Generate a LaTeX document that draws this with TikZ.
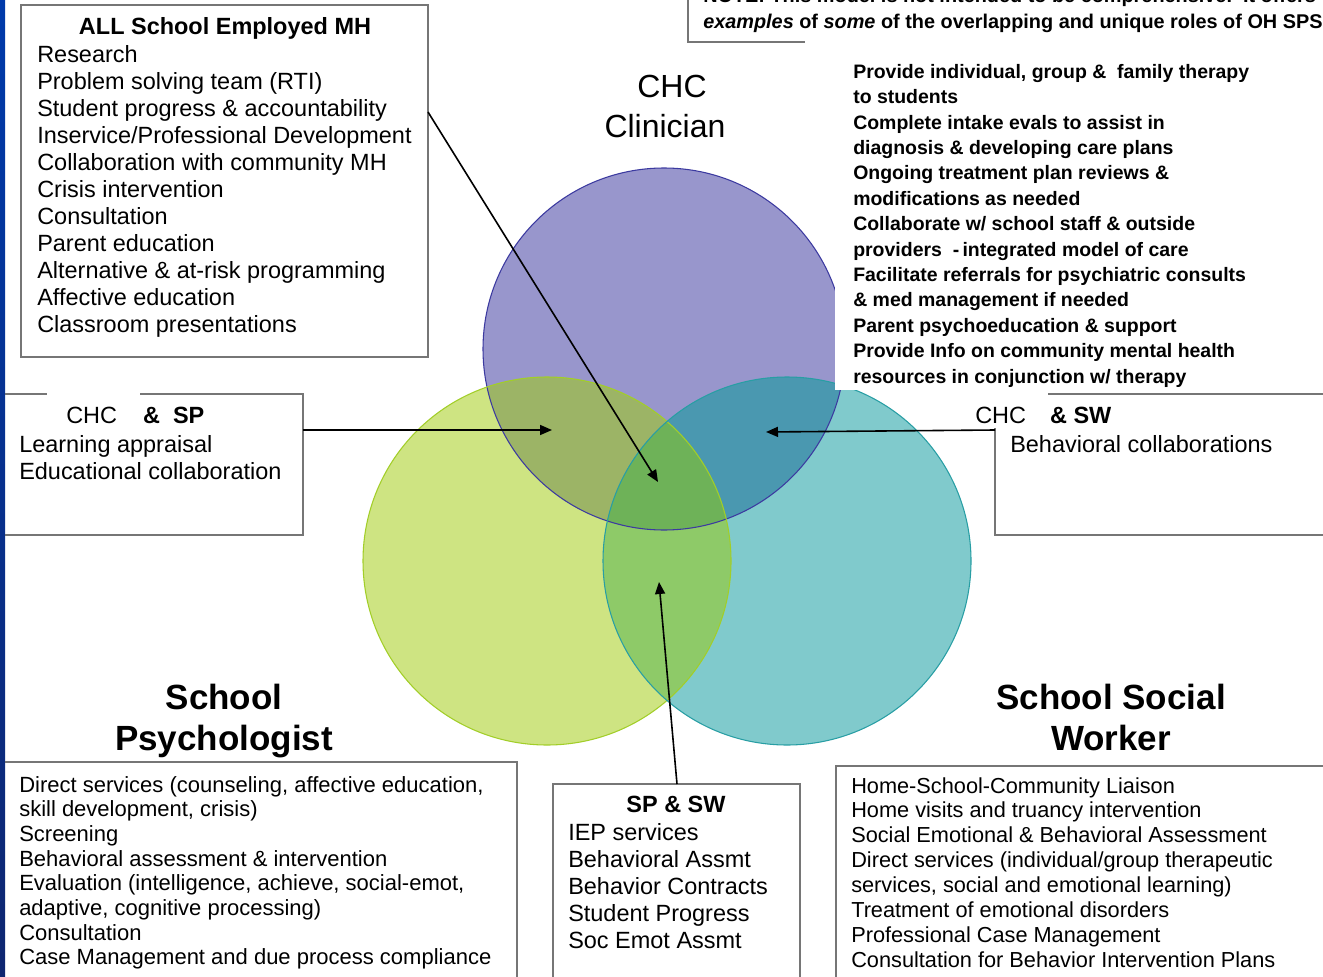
\documentclass[tikz,border=0pt]{standalone}
\usepackage{fontspec}
\setmainfont{Liberation Sans}
\usetikzlibrary{arrows.meta, positioning}
\definecolor{slideblue}{RGB}{0, 58, 170}
\definecolor{slidenavy}{RGB}{14, 38, 112}
\definecolor{boxgray}{RGB}{118, 118, 118}
\definecolor{chccolor}{RGB}{152, 150, 204}
\definecolor{chcline}{RGB}{60, 58, 160}
\definecolor{spcolor}{RGB}{206, 228, 130}
\definecolor{spline}{RGB}{162, 206, 40}
\definecolor{swcolor}{RGB}{128, 202, 204}
\definecolor{swline}{RGB}{40, 158, 164}
\definecolor{chcspcolor}{RGB}{156, 180, 102}
\definecolor{chcswcolor}{RGB}{74, 152, 176}
\definecolor{spswcolor}{RGB}{142, 202, 104}
\definecolor{allcolor}{RGB}{110, 178, 88}

\begin{document}
\begin{tikzpicture}[
    x=0.75pt, y=-0.75pt,
    boxline/.style={draw=boxgray, line width=1.5pt},
    pointer/.style={line width=1.2pt, -{Triangle[length=9pt, width=7.5pt]}},
    listtext/.style={anchor=north west, inner sep=0pt, align=left, font=\fontsize{17.6}{20.25}\selectfont},
    heading/.style={anchor=north, inner sep=0pt, align=center, font=\bfseries\fontsize{17.6}{20.25}\selectfont},
    bigtitle/.style={anchor=north, inner sep=0pt, align=center, font=\bfseries\fontsize{26.25}{30.75}\selectfont},
    chcname/.style={anchor=north, inner sep=0pt, font=\fontsize{24}{29.25}\selectfont},
]
    % Frame
    \clip (0,0) rectangle (1323,977);
    \fill[white] (0,0) rectangle (1323,977);
    \shade[top color=slideblue, bottom color=slidenavy] (0,0) rectangle (5,977);

    % Circles
    \def\chccircle{(664,349) circle[radius=181]}
    \def\spcircle{(547,561) circle[radius=184]}
    \def\swcircle{(787,561) circle[radius=184]}
    \fill[chccolor] \chccircle;
    \fill[spcolor] \spcircle;
    \fill[swcolor] \swcircle;
    \begin{scope}
        \clip \chccircle;
        \fill[chcspcolor] \spcircle;
        \fill[chcswcolor] \swcircle;
    \end{scope}
    \begin{scope}
        \clip \spcircle;
        \fill[spswcolor] \swcircle;
        \clip \chccircle;
        \fill[allcolor] \swcircle;
    \end{scope}
    \draw[chcline, line width=0.8pt] \chccircle;
    \draw[spline, line width=0.8pt] \spcircle;
    \draw[swline, line width=0.8pt] \swcircle;

    % CHC Clinician
    \fill[white] (835,50) rectangle (1323,390);
    \node[chcname] (chctitle) at (672,75) {CHC};
    \node[chcname] (chcsub) at (665,114) {Clinician};
    \node[listtext, font=\bfseries\fontsize{14.6}{19.05}\selectfont] (chclist) at (853,64) {Provide individual, group \&\ \ family therapy\\to students\\Complete intake evals to assist in\\diagnosis \& developing care plans\\Ongoing treatment plan reviews \&\\modifications as needed\\Collaborate w/ school staff \& outside\\providers\ \ -\,integrated model of care\\Facilitate referrals for psychiatric consults\\\& med management if needed\\Parent psychoeducation \& support\\Provide Info on community mental health\\resources in conjunction w/ therapy};

    % Note
    \draw[boxline] (688,0) -- (688,42) -- (805,42);
    \node[listtext, font=\bfseries\fontsize{14.9}{19.2}\selectfont] (note) at (703,-12) {NOTE: This model is not intended to be comprehensive.\ \ It offers\\\textit{examples} of \textit{some} of the overlapping and unique roles of OH SPSP};

    % ALL School Employed MH
    \draw[boxline] (21,5) rectangle (428,357);
    \node[heading] (mhhead) at (225,17) {ALL School Employed MH};
    \node[listtext] (mhlist) at (37,45) {Research\\Problem solving team (RTI)\\Student progress \& accountability\\Inservice/Professional Development\\Collaboration with community MH\\Crisis intervention\\Consultation\\Parent education\\Alternative \& at-risk programming\\Affective education\\Classroom presentations};

    % CHC & SP
    \draw[boxline] (5,394) -- (47,394);
    \draw[boxline] (140,394) -- (303,394) -- (303,535) -- (5,535);
    \node[listtext] (chcsphead) at (66,407) {CHC\hspace{19.5pt}\textbf{\&\ \ SP}};
    \node[listtext] (chcsplist) at (19,435) {Learning appraisal\\Educational collaboration};

    % CHC & SW
    \draw[boxline] (1048,394) -- (1323,394);
    \draw[boxline] (995,428) -- (995,535) -- (1323,535);
    \node[listtext] (chcswhead) at (975,407) {CHC\hspace{18pt}\textbf{\& SW}};
    \node[listtext] (chcswlist) at (1010,435) {Behavioral collaborations};

    % School Psychologist
    \node[bigtitle] (sptitle) at (224,684) {School\\Psychologist};
    \draw[boxline] (5,762) -- (517,762) -- (517,977);
    \node[listtext, font=\fontsize{16.5}{18.5}\selectfont] (splist) at (19,776) {Direct services (counseling, affective education,\\skill development, crisis)\\Screening\\Behavioral assessment \& intervention\\Evaluation (intelligence, achieve, social-emot,\\adaptive, cognitive processing)\\Consultation\\Case Management and due process compliance};

    % SP & SW
    \draw[boxline] (553,977) -- (553,784) -- (800,784) -- (800,977);
    \node[heading] (spswhead) at (676,796) {SP \& SW};
    \node[listtext] (spswlist) at (568,823) {IEP services\\Behavioral Assmt\\Behavior Contracts\\Student Progress\\Soc Emot Assmt};

    % School Social Worker
    \node[bigtitle] (swtitle) at (1111,684) {School Social\\Worker};
    \draw[boxline] (836,977) -- (836,766) -- (1323,766);
    \node[listtext, font=\fontsize{16.3}{18.65}\selectfont] (swlist) at (851,777) {Home-School-Community Liaison\\Home visits and truancy intervention\\Social Emotional \& Behavioral Assessment\\Direct services (individual/group therapeutic\\services, social and emotional learning)\\Treatment of emotional disorders\\Professional Case Management\\Consultation for Behavior Intervention Plans};

    % Connectors
    \coordinate (mhout) at (428,112);
    \coordinate (core) at (658,482);
    \coordinate (chcspout) at (303,430);
    \coordinate (chcsptip) at (552,430);
    \coordinate (chcswout) at (995,430);
    \coordinate (chcswtip) at (766,432);
    \coordinate (spswout) at (677,784);
    \coordinate (spswtip) at (659,582);
    \draw[pointer] (mhout) -- (core);
    \draw[pointer] (chcspout) -- (chcsptip);
    \draw[pointer] (chcswout) -- (chcswtip);
    \draw[pointer] (spswout) -- (spswtip);
\end{tikzpicture}
\end{document}
